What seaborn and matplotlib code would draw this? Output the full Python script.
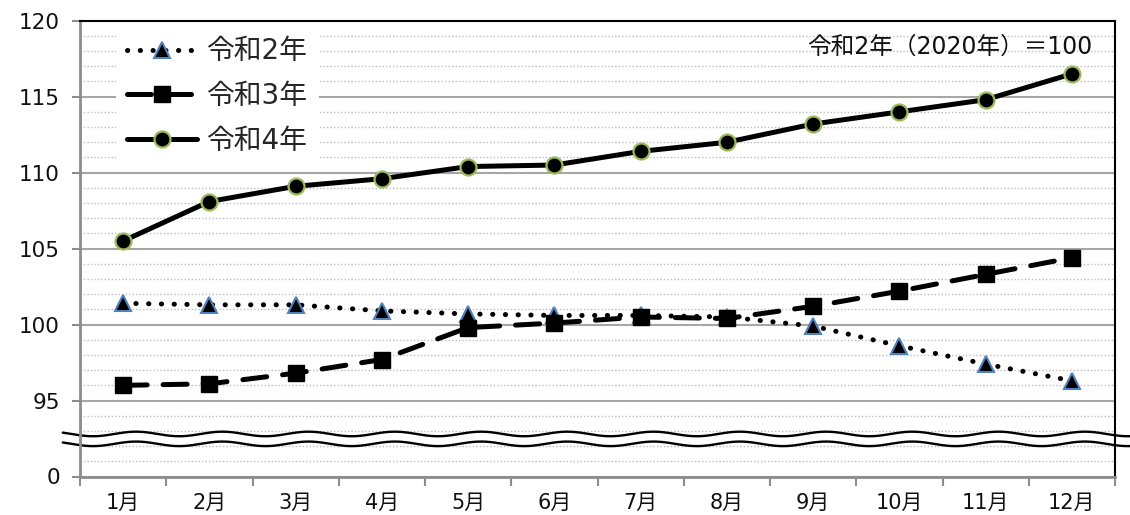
import numpy as np
import pandas as pd
import matplotlib
matplotlib.use('Agg')
import matplotlib.pyplot as plt
import seaborn as sns
from matplotlib.ticker import FixedLocator, MultipleLocator

# data
months = ['1月', '2月', '3月', '4月', '5月', '6月', '7月', '8月', '9月', '10月', '11月', '12月']
r2 = [101.4, 101.3, 101.3, 100.9, 100.7, 100.6, 100.6, 100.5, 99.9, 98.6, 97.4, 96.3]
r3 = [96.0, 96.1, 96.8, 97.7, 99.8, 100.1, 100.5, 100.4, 101.2, 102.2, 103.3, 104.4]
r4 = [105.5, 108.1, 109.1, 109.6, 110.4, 110.5, 111.4, 112.0, 113.2, 114.0, 114.8, 116.5]
series_names = ['令和2年', '令和3年', '令和4年']
y_ticks = [90, 95, 100, 105, 110, 115, 120]
y_labels = ['0', '95', '100', '105', '110', '115', '120']
note = '令和2年（2020年）＝100'

sns.set_style('white')
plt.rcParams['font.family'] = ['DejaVu Sans', 'Noto Sans CJK JP']

df = pd.DataFrame({
    '月': months * 3,
    '指数': r2 + r3 + r4,
    '系列': np.repeat(series_names, len(months)),
})

fig = plt.figure(figsize=(11.3, 5.15), dpi=100)
ax = fig.add_axes([80 / 1130, 38.5 / 515, 1035 / 1130, 455.8 / 515])

styles = {
    '令和2年': dict(marker='^', markersize=12, markerfacecolor='black',
                  markeredgecolor='#4F81BD', markeredgewidth=1.5),
    '令和3年': dict(marker='s', markersize=11.5, markerfacecolor='black',
                  markeredgecolor='black', markeredgewidth=1),
    '令和4年': dict(marker='o', markersize=11.5, markerfacecolor='black',
                  markeredgecolor='#9BBB59', markeredgewidth=1.6),
}
dash_map = {'令和2年': [0.05, 2.5], '令和3年': [4.8, 3.2], '令和4年': None}

for name in series_names:
    sub = df[df['系列'] == name]
    sns.lineplot(data=sub, x='月', y='指数', ax=ax, sort=False, errorbar=None,
                 color='black', linewidth=3.6, label=name, zorder=4, **styles[name])
    line = ax.lines[-1]
    line.set_solid_capstyle('round')
    if dash_map[name] is not None:
        line.set_dashes(dash_map[name])
        line.set_dash_capstyle('round')

ax.set_xlim(-0.5, len(months) - 0.5)
ax.set_ylim(90, 120)
ax.yaxis.set_major_locator(FixedLocator(y_ticks))
ax.set_yticklabels(y_labels)
ax.yaxis.set_minor_locator(MultipleLocator(1))
ax.set_xticks(np.arange(-0.5, len(months), 1), minor=True)
ax.set_xlabel('')
ax.set_ylabel('')

ax.grid(axis='y', which='major', color='#A6A6A6', linewidth=1.5, linestyle='-', zorder=1)
ax.grid(axis='y', which='minor', color='#BDBDBD', linewidth=1, linestyle=(0, (1, 1.5)), zorder=1)
ax.grid(axis='x', which='both', visible=False)

ax.tick_params(axis='y', which='major', length=5.5, width=1.5, color='#8C8C8C',
               pad=9, labelsize=15.5, labelcolor='#111111', direction='out', left=True)
ax.tick_params(axis='y', which='minor', length=0)
ax.tick_params(axis='x', which='major', length=0, pad=12, labelsize=15, labelcolor='#111111')
ax.tick_params(axis='x', which='minor', length=6.5, width=1.5, color='#8C8C8C',
               direction='out', bottom=True)

for side in ['left', 'bottom']:
    ax.spines[side].set_color('#8C8C8C')
    ax.spines[side].set_linewidth(2)
for side in ['top', 'right']:
    ax.spines[side].set_color('black')
    ax.spines[side].set_linewidth(1.5)

# wavy axis break between 0 and 95
xw = np.linspace(-0.7, 11.7, 800)
wave = 0.15 * np.cos(2 * np.pi * (xw - 0.15))
upper = 92.8 + wave
lower = 92.15 + wave
ax.fill_between(xw, lower, upper, color='white', zorder=2, clip_on=False, linewidth=0)
ax.plot(xw, upper, color='black', linewidth=1.7, zorder=2.2, clip_on=False)
ax.plot(xw, lower, color='black', linewidth=1.7, zorder=2.2, clip_on=False)

leg = ax.legend(loc='upper left', bbox_to_anchor=(0.035, 0.988), fontsize=20,
                frameon=True, framealpha=1, facecolor='white', edgecolor='none',
                fancybox=False, handlelength=2.5, handletextpad=0.35,
                labelspacing=0.6, borderpad=0.4, borderaxespad=0)
leg.set_zorder(5)

ax.text(0.978, 0.943, note, transform=ax.transAxes, ha='right', va='center',
        fontsize=17, color='#111111', zorder=5)

fig.savefig('out.png', dpi=100)
